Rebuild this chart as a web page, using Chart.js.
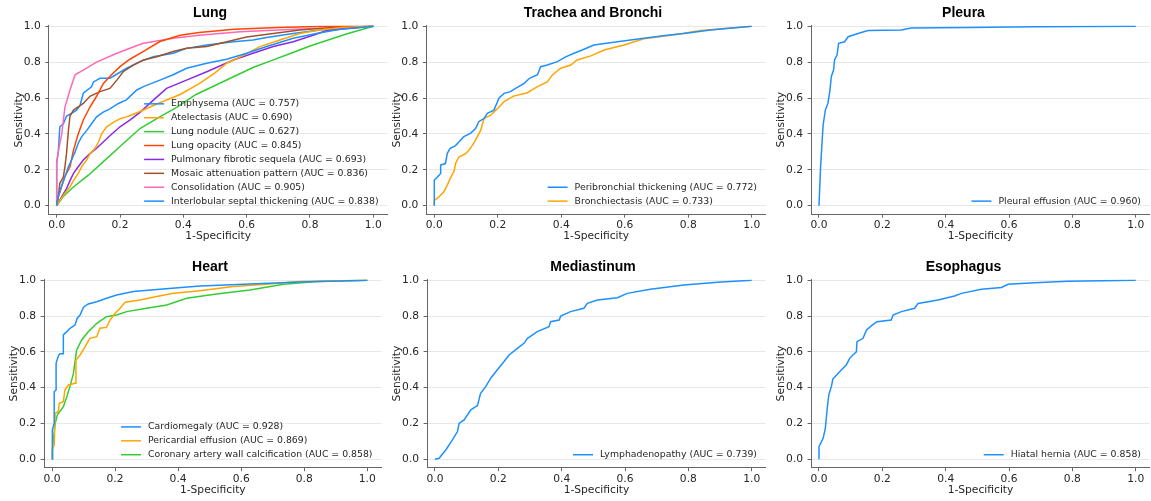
<!DOCTYPE html>
<html>
<head>
<meta charset="utf-8">
<script src="https://cdn.jsdelivr.net/npm/chart.js@4.4.1/dist/chart.umd.min.js"></script>
<style>
html,body{margin:0;padding:0;background:#fff;}
#wrap{position:relative;width:1151px;height:501px;overflow:hidden;background:#fff;}
canvas{position:absolute;}
</style>
</head>
<body>
<div id="wrap"></div>
<script>
// ---------- DATA ----------
const tickValues = [0, 0.2, 0.4, 0.6, 0.8, 1.0];

// Lung
const emphysemaX = [0,0.005,0.015,0.026,0.037,0.047,0.058,0.068,0.079,0.095,0.11,0.126,0.147,0.168,0.195,0.22,0.253,0.274,0.326,0.368,0.41,0.474,0.537,0.6,0.663,0.747,0.82,0.9,1];
const emphysemaY = [0,0.05,0.105,0.16,0.217,0.255,0.3,0.348,0.385,0.42,0.457,0.495,0.522,0.54,0.57,0.59,0.645,0.664,0.7,0.73,0.766,0.794,0.816,0.85,0.887,0.933,0.96,0.985,1];
const atelectasisX = [0,0.01,0.026,0.042,0.053,0.068,0.079,0.095,0.105,0.121,0.132,0.142,0.158,0.179,0.2,0.221,0.242,0.263,0.32,0.39,0.45,0.5,0.537,0.58,0.642,0.705,0.768,0.83,0.9,1];
const atelectasisY = [0,0.03,0.07,0.105,0.14,0.18,0.217,0.255,0.29,0.32,0.355,0.4,0.44,0.465,0.485,0.495,0.51,0.525,0.57,0.62,0.68,0.74,0.794,0.83,0.887,0.924,0.96,0.98,0.993,1];
const noduleX = [0,0.02,0.05,0.1,0.15,0.2,0.263,0.32,0.38,0.44,0.5,0.56,0.62,0.68,0.74,0.8,0.86,0.92,1];
const noduleY = [0,0.05,0.1,0.17,0.25,0.33,0.43,0.49,0.55,0.62,0.67,0.72,0.77,0.81,0.85,0.89,0.925,0.96,1];
const opacityX = [0,0.005,0.015,0.025,0.042,0.053,0.068,0.084,0.105,0.126,0.147,0.173,0.2,0.23,0.274,0.326,0.39,0.45,0.56,0.7,0.85,1];
const opacityY = [0,0.05,0.106,0.16,0.217,0.31,0.4,0.478,0.55,0.61,0.68,0.73,0.775,0.815,0.86,0.915,0.95,0.965,0.983,0.993,1,1];
const fibroticX = [0,0.016,0.031,0.042,0.053,0.068,0.084,0.105,0.126,0.147,0.168,0.2,0.232,0.263,0.3,0.347,0.41,0.474,0.558,0.62,0.684,0.747,0.81,0.853,1];
const fibroticY = [0,0.05,0.095,0.14,0.18,0.217,0.255,0.29,0.32,0.355,0.39,0.44,0.478,0.52,0.58,0.654,0.7,0.747,0.812,0.85,0.887,0.914,0.95,0.976,1];
const mosaicX = [0,0.005,0.01,0.021,0.026,0.031,0.037,0.042,0.053,0.084,0.105,0.137,0.168,0.19,0.21,0.242,0.274,0.316,0.368,0.41,0.474,0.537,0.6,0.684,0.768,0.874,1];
const mosaicY = [0,0.05,0.125,0.16,0.217,0.29,0.42,0.5,0.533,0.57,0.61,0.636,0.654,0.7,0.747,0.784,0.812,0.83,0.86,0.877,0.887,0.914,0.94,0.96,0.98,0.994,1];
const consolidationX = [0,0,0.005,0.016,0.026,0.042,0.058,0.084,0.126,0.19,0.258,0.274,0.368,0.45,0.58,0.7,0.85,1];
const consolidationY = [0,0.245,0.3,0.4,0.55,0.645,0.73,0.756,0.8,0.85,0.896,0.905,0.933,0.95,0.97,0.98,0.99,1];
const septalX = [0,0,0.005,0.01,0.021,0.031,0.047,0.063,0.074,0.084,0.11,0.116,0.137,0.168,0.18,0.221,0.263,0.305,0.368,0.41,0.474,0.558,0.62,0.663,0.747,0.83,1];
const septalY = [0,0.236,0.3,0.44,0.457,0.5,0.515,0.533,0.561,0.627,0.663,0.69,0.71,0.71,0.723,0.766,0.803,0.83,0.85,0.877,0.896,0.914,0.924,0.937,0.96,0.98,1];

// Trachea and Bronchi
const peribronchialX = [0,0,0.01,0.02,0.02,0.035,0.041,0.05,0.067,0.078,0.093,0.114,0.13,0.14,0.157,0.167,0.188,0.204,0.22,0.24,0.256,0.283,0.3,0.325,0.335,0.356,0.388,0.414,0.44,0.466,0.503,0.577,0.66,0.734,0.787,0.87,1];
const peribronchialY = [0,0.143,0.16,0.18,0.227,0.235,0.292,0.32,0.335,0.357,0.385,0.403,0.43,0.468,0.487,0.515,0.533,0.6,0.626,0.636,0.654,0.682,0.71,0.73,0.775,0.784,0.803,0.83,0.85,0.868,0.896,0.914,0.933,0.95,0.96,0.98,1];
const bronchiectasisX = [0,0,0.015,0.03,0.041,0.05,0.062,0.067,0.078,0.099,0.114,0.13,0.146,0.157,0.178,0.2,0.22,0.25,0.293,0.325,0.356,0.372,0.398,0.43,0.45,0.493,0.535,0.598,0.66,0.745,0.84,1];
const bronchiectasisY = [0,0.03,0.05,0.078,0.115,0.152,0.19,0.236,0.273,0.29,0.32,0.366,0.42,0.487,0.505,0.543,0.58,0.611,0.63,0.664,0.69,0.729,0.766,0.784,0.812,0.835,0.868,0.896,0.93,0.95,0.976,1];

// Pleura
const effusionX = [0,0.005,0.013,0.02,0.028,0.034,0.039,0.046,0.049,0.057,0.062,0.081,0.092,0.123,0.155,0.26,0.29,0.47,0.68,1];
const effusionY = [0,0.217,0.45,0.533,0.57,0.636,0.72,0.756,0.812,0.84,0.905,0.914,0.942,0.96,0.976,0.98,0.99,0.994,0.998,1];

// Heart
const cardiomegalyX = [0,0,0.002,0.007,0.007,0.013,0.013,0.02,0.025,0.036,0.036,0.047,0.057,0.073,0.08,0.089,0.1,0.115,0.142,0.173,0.205,0.258,0.342,0.469,0.628,0.786,1];
const cardiomegalyY = [0,0.09,0.164,0.2,0.378,0.387,0.536,0.577,0.59,0.59,0.695,0.713,0.732,0.75,0.788,0.806,0.85,0.868,0.88,0.9,0.918,0.937,0.95,0.968,0.98,0.99,1];
const pericardialX = [0,0.001,0.007,0.01,0.02,0.023,0.036,0.041,0.052,0.073,0.076,0.089,0.105,0.12,0.142,0.152,0.173,0.184,0.2,0.216,0.232,0.279,0.332,0.385,0.469,0.575,0.68,0.786,1];
const pericardialY = [0,0.05,0.08,0.257,0.266,0.313,0.322,0.387,0.415,0.425,0.555,0.583,0.63,0.676,0.685,0.732,0.737,0.778,0.816,0.844,0.877,0.89,0.909,0.927,0.942,0.965,0.978,0.993,1];
const coronaryX = [0,0.002,0.01,0.017,0.036,0.047,0.057,0.068,0.078,0.094,0.115,0.142,0.173,0.205,0.237,0.3,0.364,0.427,0.522,0.628,0.734,0.84,1];
const coronaryY = [0,0.07,0.2,0.248,0.294,0.35,0.406,0.48,0.61,0.667,0.713,0.76,0.797,0.806,0.825,0.844,0.862,0.9,0.924,0.946,0.978,0.993,1];

// Mediastinum
const lymphX = [0,0.013,0.034,0.055,0.071,0.076,0.092,0.113,0.134,0.144,0.16,0.176,0.197,0.218,0.234,0.26,0.281,0.292,0.323,0.36,0.365,0.392,0.397,0.428,0.47,0.481,0.513,0.576,0.607,0.68,0.786,0.892,1];
const lymphY = [0,0.006,0.052,0.108,0.155,0.2,0.22,0.276,0.3,0.369,0.406,0.453,0.5,0.546,0.583,0.62,0.648,0.676,0.713,0.741,0.769,0.778,0.8,0.825,0.844,0.871,0.89,0.903,0.927,0.95,0.974,0.989,1];

// Esophagus
const herniaX = [0,0,0.013,0.02,0.026,0.031,0.039,0.044,0.055,0.071,0.086,0.097,0.107,0.118,0.12,0.139,0.15,0.165,0.183,0.228,0.234,0.26,0.302,0.313,0.376,0.428,0.45,0.513,0.576,0.597,0.681,0.786,1];
const herniaY = [0,0.07,0.117,0.173,0.285,0.36,0.406,0.45,0.47,0.5,0.527,0.564,0.583,0.6,0.657,0.676,0.723,0.745,0.769,0.778,0.806,0.825,0.844,0.871,0.89,0.912,0.927,0.95,0.96,0.978,0.987,0.994,1];

// ---------- COLORS ----------
const BLUE = '#1E90FF', ORANGE = '#FFA500', GREEN = '#32CD32', RED = '#FF4500',
      PURPLE = '#8A2BE2', BROWN = '#A0522D', PINK = '#FF69B4';

const panels = [
  {title:'Lung', x0:56.7, x1:373.3, y0:205.7, y1:26.3, tx:210, ty:12.8, series:[
    ['Emphysema (AUC = 0.757)', emphysemaX, emphysemaY, BLUE],
    ['Atelectasis (AUC = 0.690)', atelectasisX, atelectasisY, ORANGE],
    ['Lung nodule (AUC = 0.627)', noduleX, noduleY, GREEN],
    ['Lung opacity (AUC = 0.845)', opacityX, opacityY, RED],
    ['Pulmonary fibrotic sequela (AUC = 0.693)', fibroticX, fibroticY, PURPLE],
    ['Mosaic attenuation pattern (AUC = 0.836)', mosaicX, mosaicY, BROWN],
    ['Consolidation (AUC = 0.905)', consolidationX, consolidationY, PINK],
    ['Interlobular septal thickening (AUC = 0.838)', septalX, septalY, BLUE]]},
  {title:'Trachea and Bronchi', x0:434.3, x1:751.7, y0:205.7, y1:26.3, tx:593, ty:12.8, series:[
    ['Peribronchial thickening (AUC = 0.772)', peribronchialX, peribronchialY, BLUE],
    ['Bronchiectasis (AUC = 0.733)', bronchiectasisX, bronchiectasisY, ORANGE]]},
  {title:'Pleura', x0:819, x1:1135.7, y0:205.7, y1:26.3, tx:963.5, ty:12.8, series:[
    ['Pleural effusion (AUC = 0.960)', effusionX, effusionY, BLUE]]},
  {title:'Heart', x0:52, x1:367.3, y0:459.3, y1:280.3, tx:210, ty:267.2, series:[
    ['Cardiomegaly (AUC = 0.928)', cardiomegalyX, cardiomegalyY, BLUE],
    ['Pericardial effusion (AUC = 0.869)', pericardialX, pericardialY, ORANGE],
    ['Coronary artery wall calcification (AUC = 0.858)', coronaryX, coronaryY, GREEN]]},
  {title:'Mediastinum', x0:435, x1:751.7, y0:459.3, y1:280.3, tx:593, ty:267.2, series:[
    ['Lymphadenopathy (AUC = 0.739)', lymphX, lymphY, BLUE]]},
  {title:'Esophagus', x0:819, x1:1135.7, y0:459.3, y1:280.3, tx:963.5, ty:267.2, series:[
    ['Hiatal hernia (AUC = 0.858)', herniaX, herniaY, BLUE]]}
];

// ---------- STYLE / LAYOUT ----------
const XMIN=-0.025, XMAX=1.045, YMIN=-0.047, YMAX=1.005;
const YW=36, XH=29, TITLE_LH=16.8;
const TICK_FONT = {family:'DejaVu Sans', size:10.7};
const LEGEND_SIZE = 9.33;
const SPINE = '#666666', GRID = '#e8e8e8', TEXT = '#262626';

const overlay = {
  id:'overlay',
  beforeDraw(chart, args, o){
    const t = chart.titleBlock;
    if (t){ t.left = o.tx - 150; t.right = o.tx + 150; t.width = 300;
            t.top = o.ty - TITLE_LH/2; t.bottom = t.top + TITLE_LH; }
  },
  afterDatasetsDraw(chart){
    const ctx = chart.ctx, ca = chart.chartArea, ds = chart.data.datasets;
    ctx.save();
    ctx.font = LEGEND_SIZE + 'px "DejaVu Sans"';
    const maxW = Math.max(...ds.map(d => ctx.measureText(d.label).width));
    const n = ds.length, rowH = 13.9;
    const textX = ca.right - 9 - maxW;
    const lastY = ca.bottom - 13;
    ds.forEach((d,i) => {
      const y = lastY - (n-1-i)*rowH;
      ctx.strokeStyle = d.borderColor; ctx.lineWidth = 1.5;
      ctx.beginPath(); ctx.moveTo(textX-27, y); ctx.lineTo(textX-7, y); ctx.stroke();
      ctx.fillStyle = TEXT; ctx.textBaseline = 'middle'; ctx.textAlign = 'left';
      ctx.fillText(d.label, textX, y);
    });
    ctx.restore();
  }
};

const wrap = document.getElementById('wrap');
panels.forEach(p => {
  const sx = p.x1 - p.x0, sy = p.y0 - p.y1;
  const left = p.x0 + XMIN*sx, right = p.x0 + XMAX*sx;
  const top = p.y0 - YMAX*sy, bottom = p.y0 - YMIN*sy;
  const L = Math.floor(left - YW - 6), T = Math.floor(top - 30);
  const W = Math.ceil(right + 4 - L), H = Math.ceil(bottom + XH + 5 - T);
  const pad = {left: left - YW - L, right: L + W - right, top: top - TITLE_LH - T, bottom: T + H - bottom - XH};
  const cv = document.createElement('canvas');
  cv.width = W; cv.height = H;
  cv.style.left = L + 'px'; cv.style.top = T + 'px';
  cv.style.width = W + 'px'; cv.style.height = H + 'px';
  wrap.appendChild(cv);
  new Chart(cv, {
    type:'scatter',
    data:{datasets: p.series.map(s => ({
      label: s[0],
      data: s[1].map((x,i) => ({x:x, y:s[2][i]})),
      showLine:true, borderColor:s[3], backgroundColor:s[3],
      borderWidth:1.5, pointRadius:0, tension:0, fill:false
    }))},
    options:{
      responsive:false, animation:false, devicePixelRatio:1,
      layout:{padding:pad},
      plugins:{
        legend:{display:false}, tooltip:{enabled:false},
        title:{display:true, text:p.title, color:'#000', padding:0,
               font:{family:'Liberation Sans', weight:'bold', size:14, lineHeight:1.2}},
        overlay:{tx:p.tx - L, ty:p.ty - T}
      },
      scales:{
        x:{type:'linear', min:XMIN, max:XMAX,
           afterFit:s => { s.height = XH; },
           afterBuildTicks:s => { s.ticks = tickValues.map(v => ({value:v})); },
           ticks:{font:TICK_FONT, color:TEXT, padding:1.5, maxRotation:0, autoSkip:false,
                  callback:v => Number(v).toFixed(1)},
           grid:{drawOnChartArea:false, drawTicks:true, tickLength:3.5, tickColor:SPINE, tickWidth:1},
           border:{display:true, color:SPINE, width:1},
           title:{display:true, text:'1-Specificity', font:TICK_FONT, color:TEXT, padding:0}},
        y:{type:'linear', min:YMIN, max:YMAX,
           afterFit:s => { s.width = YW; },
           afterBuildTicks:s => { s.ticks = tickValues.map(v => ({value:v})); },
           ticks:{font:TICK_FONT, color:TEXT, padding:4.5, autoSkip:false,
                  callback:v => Number(v).toFixed(1)},
           grid:{color:GRID, lineWidth:1, drawTicks:true, tickLength:3.5, tickColor:SPINE, tickWidth:1},
           border:{display:true, color:SPINE, width:1},
           title:{display:true, text:'Sensitivity', font:TICK_FONT, color:TEXT, padding:0}}
      }
    },
    plugins:[overlay]
  });
});
</script>
</body>
</html>
